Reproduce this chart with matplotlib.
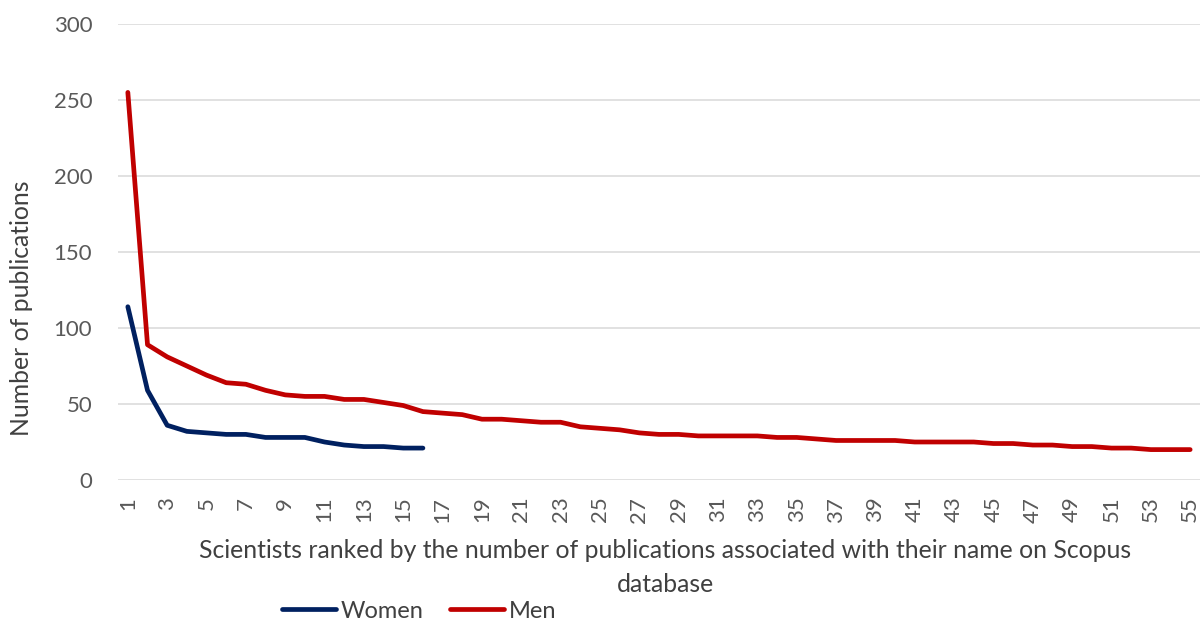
import numpy as np
import matplotlib.pyplot as plt

plt.rcParams['font.family'] = ['Lato', 'DejaVu Sans']

# publications per scientist, ranked
women = [114, 59, 36, 32, 31, 30, 30, 28, 28, 28, 25, 23, 22, 22, 21, 21]
men = [255, 89, 81, 75, 69, 64, 63, 59, 56, 55, 55, 53, 53, 51, 49, 45,
       44, 43, 40, 40, 39, 38, 38, 35, 34, 33, 31, 30, 30, 29, 29, 29,
       29, 28, 28, 27, 26, 26, 26, 26, 25, 25, 25, 25, 24, 24, 23, 23,
       22, 22, 21, 21, 20, 20, 20]
ranks = list(range(1, len(men) + 1))

W, H = 1203, 621
fig = plt.figure(figsize=(W / 100, H / 100), dpi=100)
ax = fig.add_axes([118 / W, 1 - 480 / H, (1200 - 118) / W, (480 - 24) / H])

ax.plot(ranks[:len(women)], women, color='#002060', lw=3.4,
        solid_capstyle='round', label='Women')
ax.plot(ranks, men, color='#C00000', lw=3.4,
        solid_capstyle='round', label='Men')

ax.set_xlim(0.5, len(men) + 0.5)
ax.set_ylim(0, 300)
ax.set_yticks(np.arange(0, 301, 50))
ax.set_xticks(ranks[::2])
ax.set_xticklabels([str(r) for r in ranks[::2]], rotation=90, va='top')
ax.tick_params(length=0, labelsize=16, labelcolor='#595959')
ax.tick_params(axis='y', pad=18.5)
ax.tick_params(axis='x', pad=12)

ax.grid(axis='y', color='#D9D9D9', lw=1.1)
ax.set_axisbelow(True)
for s in ax.spines.values():
    s.set_visible(False)

txt = dict(fontsize=17.8, color='#404040')
fig.text(22 / W, 1 - 308 / H, 'Number of publications', rotation=90,
         ha='center', va='center', **txt)
fig.text(665 / W, 1 - 558 / H,
         'Scientists ranked by the number of publications associated with their name on Scopus',
         ha='center', va='baseline', **txt)
fig.text(665 / W, 1 - 592 / H, 'database', ha='center', va='baseline', **txt)

fig.legend(loc='center', bbox_to_anchor=(419 / W, 1 - 611 / H), ncol=2,
           frameon=False, fontsize=17, handlelength=2.3, columnspacing=1.1,
           handletextpad=0.2, labelcolor='#404040', borderaxespad=0, borderpad=0)

fig.savefig('out.png', dpi=100)
